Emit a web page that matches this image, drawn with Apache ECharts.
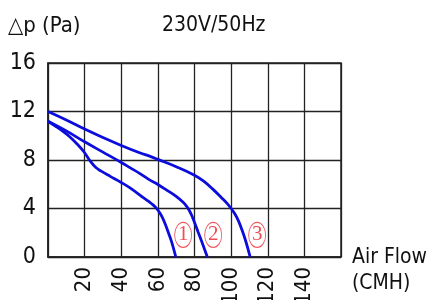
<!DOCTYPE html>
<html><head><meta charset="utf-8">
<script src="https://cdn.jsdelivr.net/npm/echarts@6/dist/echarts.min.js"></script>
<style>html,body{margin:0;padding:0;background:#fff}#c{width:427px;height:300px}</style>
</head><body><div id="c"></div>
<script>
var xTicks = [20, 40, 60, 80, 100, 120, 140];
var curve1 = [[0,11.2],[4,10.8],[8.7,10.3],[12,9.9],[16,9.3],[19.7,8.66],[23.3,7.86],[26,7.4],[28.8,7.1],[34,6.65],[40,6.15],[44.8,5.7],[52,4.9],[55,4.58],[57.5,4.28],[59.6,3.95],[61,3.65],[62.5,3.25],[64,2.72],[66,1.9],[67.6,1.2],[69.8,0]];
var curve2 = [[0,11.2],[10,10.4],[20,9.5],[30,8.65],[40,7.8],[45,7.35],[50,6.9],[55,6.4],[60,5.98],[65,5.5],[70,5.0],[73.5,4.55],[75.5,4.22],[77,3.88],[78.5,3.42],[80,2.85],[82,2.05],[84,1.25],[87,0]];
var curve3 = [[0,12],[10,11.3],[20,10.55],[30,9.85],[40,9.2],[50,8.6],[56.5,8.26],[60,8.05],[70,7.45],[80,6.75],[85,6.25],[90,5.6],[95,4.85],[98,4.38],[100,4.0],[102,3.56],[104,2.98],[106,2.2],[108,1.3],[110.4,0]];
var markerLabels = ['1', '2', '3'];
var markerPos = [[73.8,1.82],[90.2,1.82],[114.2,1.82]];

var font = 'DejaVu Sans Condensed, DejaVu Sans, sans-serif';
var chart = echarts.init(document.getElementById('c'));
function line(d){
  return {type:'line', data:d, smooth:0.4, symbol:'none', lineStyle:{color:'#0c0cdc', width:2.8}, z:3};
}
chart.setOption({
  animation:false,
  title:[
    {text:'\u25b3p (Pa)', left:8, top:15, padding:0, textStyle:{fontFamily:font, fontSize:22, fontWeight:'normal', color:'#111'}},
    {text:'230V/50Hz', left:162, top:15, padding:0, textStyle:{fontFamily:font, fontSize:21, fontWeight:'normal', color:'#111'}},
    {text:'Air Flow\n(CMH)', left:352, top:245, padding:0, textStyle:{fontFamily:font, fontSize:21, fontWeight:'normal', color:'#111', lineHeight:26}}
  ],
  grid:{left:48, right:86, top:63, bottom:43, show:true, borderColor:'#222', borderWidth:1.5, containLabel:false, outerBoundsMode:'none'},
  xAxis:{type:'value', min:0, max:160, interval:20,
    axisLine:{show:true, lineStyle:{color:'#222', width:1.5}},
    axisTick:{show:false},
    splitLine:{show:true, lineStyle:{color:'#222', width:1.3}},
    axisLabel:{rotate:90, fontFamily:font, fontSize:22, color:'#111', margin:10,
      formatter:function(v){return xTicks.indexOf(v)>=0 ? String(v) : '';}}
  },
  yAxis:{type:'value', min:0, max:16, interval:4,
    axisLine:{show:true, lineStyle:{color:'#222', width:1.5}},
    axisTick:{show:false},
    splitLine:{show:true, lineStyle:{color:'#222', width:1.3}},
    axisLabel:{fontFamily:font, fontSize:23, color:'#111', margin:12}
  },
  series:[
    line(curve1), line(curve2), line(curve3),
    {type:'scatter', data:markerPos.map(function(p,i){return {value:p, name:markerLabels[i]};}),
      symbol:'circle', symbolSize:[17,25],
      itemStyle:{color:'rgba(255,255,255,0.85)', borderColor:'#e8303a', borderWidth:1},
      label:{show:true, position:'inside', formatter:'{b}', color:'#e8202a',
        fontFamily:'Liberation Serif, serif', fontSize:21}, z:4}
  ]
});
</script></body></html>
